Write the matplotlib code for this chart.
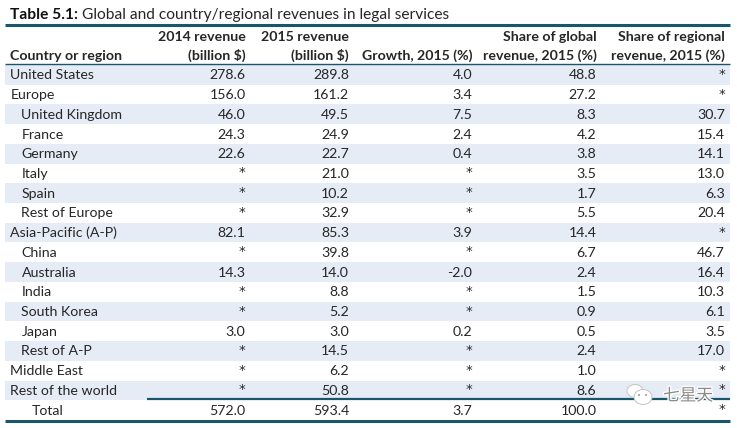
import matplotlib
matplotlib.use("Agg")
import matplotlib.pyplot as plt
from matplotlib.patches import Ellipse
import matplotlib.patheffects as pe

W, H = 737, 428
title_bold = "Table 5.1:"
title_rest = "Global and country/regional revenues in legal services"
headers = [["Country or region"],
           ["2014 revenue", "(billion $)"],
           ["2015 revenue", "(billion $)"],
           ["Growth, 2015 (%)"],
           ["Share of global", "revenue, 2015 (%)"],
           ["Share of regional", "revenue, 2015 (%)"]]
regions = ["United States", "Europe", "United Kingdom", "France", "Germany", "Italy", "Spain",
           "Rest of Europe", "Asia-Pacific (A-P)", "China", "Australia", "India", "South Korea",
           "Japan", "Rest of A-P", "Middle East", "Rest of the world", "Total"]
indent = [0, 0, 1, 1, 1, 1, 1, 1, 0, 1, 1, 1, 1, 1, 1, 0, 0, 2]
rev2014 = ["278.6", "156.0", "46.0", "24.3", "22.6", "*", "*", "*", "82.1", "*", "14.3", "*", "*", "3.0", "*", "*", "*", "572.0"]
rev2015 = ["289.8", "161.2", "49.5", "24.9", "22.7", "21.0", "10.2", "32.9", "85.3", "39.8", "14.0", "8.8", "5.2", "3.0", "14.5", "6.2", "50.8", "593.4"]
growth = ["4.0", "3.4", "7.5", "2.4", "0.4", "*", "*", "*", "3.9", "*", "-2.0", "*", "*", "0.2", "*", "*", "*", "3.7"]
share_global = ["48.8", "27.2", "8.3", "4.2", "3.8", "3.5", "1.7", "5.5", "14.4", "6.7", "2.4", "1.5", "0.9", "0.5", "2.4", "1.0", "8.6", "100.0"]
share_regional = ["*", "*", "30.7", "15.4", "14.1", "13.0", "6.3", "20.4", "*", "46.7", "16.4", "10.3", "6.1", "3.5", "17.0", "*", "*", "*"]
columns = [rev2014, rev2015, growth, share_global, share_regional]
right_edges = [245.5, 349, 472.5, 596.5, 725]

INK = "#262626"
RULE = "#17566b"
BAND = "#e5ecf6"
FS = 10.15

plt.rcParams["font.family"] = ["Lato", "DejaVu Sans"]
fig = plt.figure(figsize=(W / 100, H / 100), dpi=100)
ax = fig.add_axes([0, 0, 1, 1])
ax.set_xlim(0, W)
ax.set_ylim(H, 0)
ax.axis("off")

row0, step = 65.0, 19.72
for i, name in enumerate(regions):
    top = row0 + i * step
    if i % 2 == 0 and i < 17:
        ax.fill_between([5, 730], top, top + step, color=BAND, lw=0, zorder=0)
    cy = top + step / 2 + 0.5
    ax.text([10.5, 21.5, 32][indent[i]], cy, name, ha="left", va="center", fontsize=FS, color=INK)
    for col, xr in zip(columns, right_edges):
        if col[i] == "*":
            ax.text(xr, cy - 1, "*", ha="right", va="center", fontsize=9.5, color=INK, family="DejaVu Sans")
        else:
            ax.text(xr, cy, col[i], ha="right", va="center", fontsize=FS, color=INK)

# title
t = ax.text(10.5, 15, title_bold, ha="left", va="center", fontsize=11.17, fontweight="bold", color="#111111")
fig.canvas.draw()
bb = t.get_window_extent()
ax.text(bb.x1 + 3.5, 15, title_rest, ha="left", va="center", fontsize=11.17, color=INK)

# headers
for k, lines in enumerate(headers):
    xr = 10.5 if k == 0 else right_edges[k - 1]
    ha = "left" if k == 0 else "right"
    for j, line in enumerate(reversed(lines)):
        ax.text(xr, 55.5 - j * 19, line, ha=ha, va="center", fontsize=FS, fontweight="bold", color=INK)

# rules
ax.plot([5, 730], [25, 25], color=RULE, lw=2.2, solid_capstyle="butt")
ax.plot([5, 730], [64.3, 64.3], color=RULE, lw=1.0, solid_capstyle="butt")
ax.plot([147, 730], [399, 399], color=RULE, lw=1.6, solid_capstyle="butt")
ax.plot([5, 730], [421, 421], color=RULE, lw=2.2, solid_capstyle="butt")

# watermark
halo = [pe.withStroke(linewidth=2, foreground="white")]
ax.text(688, 396, "七星天", ha="center", va="center", fontsize=12, color="#8a8a8a",
        family=["Noto Sans CJK SC", "DejaVu Sans"], path_effects=halo, zorder=5)
ax.add_patch(Ellipse((635, 391), 16, 13, fc="white", ec="#c4c4c4", lw=0.7, zorder=5))
ax.add_patch(Ellipse((643, 397), 18, 15, fc="white", ec="#c4c4c4", lw=0.7, zorder=5))
for ex in (639, 646):
    ax.add_patch(Ellipse((ex, 395), 2, 2, fc="#9a9a9a", ec="none", zorder=6))

fig.savefig("out.png", dpi=100)
